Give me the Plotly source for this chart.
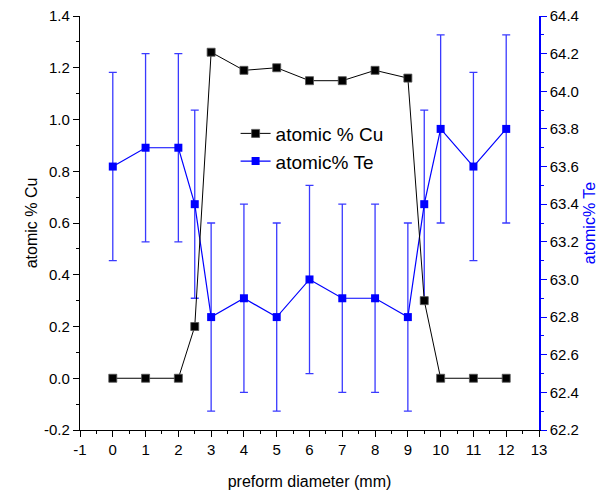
import plotly.graph_objects as go

# Preform diameter positions (mm)
diameter = [0, 1, 2, 2.5, 3, 4, 5, 6, 7, 8, 9, 9.5, 10, 11, 12]
# Atomic % Cu at each position
cu_pct = [0.0, 0.0, 0.0, 0.2, 1.26, 1.19, 1.2, 1.15, 1.15, 1.19, 1.16, 0.3, 0.0, 0.0, 0.0]
# Atomic % Te at each position and its uncertainty
te_pct = [63.6, 63.7, 63.7, 63.4, 62.8, 62.9, 62.8, 63.0, 62.9, 62.9, 62.8, 63.4, 63.8, 63.6, 63.8]
te_err = [0.5, 0.5, 0.5, 0.5, 0.5, 0.5, 0.5, 0.5, 0.5, 0.5, 0.5, 0.5, 0.5, 0.5, 0.5]

# Tick positions and labels (plain hyphen for negatives)
x_ticks = [-1, 0, 1, 2, 3, 4, 5, 6, 7, 8, 9, 10, 11, 12, 13]
x_labels = ["-1", "0", "1", "2", "3", "4", "5", "6", "7", "8", "9", "10", "11", "12", "13"]
cu_ticks = [-0.2, 0.0, 0.2, 0.4, 0.6, 0.8, 1.0, 1.2, 1.4]
cu_labels = ["-0.2", "0.0", "0.2", "0.4", "0.6", "0.8", "1.0", "1.2", "1.4"]

FONT = "Liberation Sans, Arial, sans-serif"
BLUE = "#0000ff"

fig = go.Figure()

# Te on the primary y axis (drawn on the right) so Cu is layered on top
fig.add_trace(go.Scatter(
    x=diameter, y=te_pct, name="atomic% Te", yaxis="y", legendrank=2,
    mode="lines+markers",
    line=dict(color=BLUE, width=1.2),
    marker=dict(symbol="square", size=8, color=BLUE, line=dict(width=0)),
    error_y=dict(type="data", array=te_err, visible=True,
                 color="#3a3aff", thickness=1.3, width=4),
))

fig.add_trace(go.Scatter(
    x=diameter, y=cu_pct, name="atomic % Cu", yaxis="y2", legendrank=1,
    mode="lines+markers",
    line=dict(color="black", width=1),
    marker=dict(symbol="square", size=8, color="black",
                line=dict(color="#555555", width=0.8)),
))

tick_font = dict(family=FONT, size=15, color="black")

fig.update_layout(
    width=606, height=496,
    margin=dict(l=80, r=67, t=16, b=66),
    paper_bgcolor="white", plot_bgcolor="white",
    font=dict(family=FONT, color="black"),
    showlegend=True,
    legend=dict(x=0.339, y=0.762, xanchor="left", yanchor="top",
                bgcolor="rgba(0,0,0,0)", font=dict(family=FONT, size=19),
                tracegroupgap=0, itemwidth=30),
    xaxis=dict(
        range=[-1, 13], tickvals=x_ticks, ticktext=x_labels,
        showgrid=False, zeroline=False, automargin=False,
        showline=True, linecolor="black", linewidth=1.2,
        ticks="outside", ticklen=6, tickwidth=1.2, tickcolor="black",
        minor=dict(dtick=0.5, ticks="outside", ticklen=3, tickwidth=1, tickcolor="black"),
        tickfont=tick_font,
        title=dict(text="preform diameter (mm)", font=dict(family=FONT, size=16), standoff=18),
    ),
    xaxis2=dict(
        range=[-1, 13], dtick=1, tick0=0, overlaying="x", side="top",
        showgrid=False, zeroline=False, showticklabels=False, automargin=False,
        showline=True, linecolor="black", linewidth=1.2,
        ticks="inside", ticklen=6, tickwidth=1.2, tickcolor="black",
        minor=dict(dtick=0.5, ticks="inside", ticklen=3, tickwidth=1, tickcolor="black"),
    ),
    yaxis=dict(
        range=[62.2, 64.4], dtick=0.2, tick0=62.2, tickformat=".1f", side="right",
        showgrid=False, zeroline=False, automargin=False,
        showline=True, linecolor=BLUE, linewidth=1.5,
        ticks="outside", ticklen=6, tickwidth=1.2, tickcolor=BLUE,
        minor=dict(dtick=0.1, ticks="outside", ticklen=3, tickwidth=1, tickcolor=BLUE),
        tickfont=tick_font,
        title=dict(text="atomic% Te", font=dict(family=FONT, size=16, color=BLUE), standoff=6),
    ),
    yaxis2=dict(
        range=[-0.2, 1.4], tickvals=cu_ticks, ticktext=cu_labels, side="left",
        overlaying="y", showgrid=False, zeroline=False, automargin=False,
        showline=True, linecolor="black", linewidth=1.2,
        ticks="outside", ticklen=6, tickwidth=1.2, tickcolor="black",
        minor=dict(dtick=0.1, ticks="outside", ticklen=3, tickwidth=1, tickcolor="black"),
        tickfont=tick_font,
        title=dict(text="atomic % Cu", font=dict(family=FONT, size=16), standoff=2),
    ),
)

fig.write_html("out.html")
